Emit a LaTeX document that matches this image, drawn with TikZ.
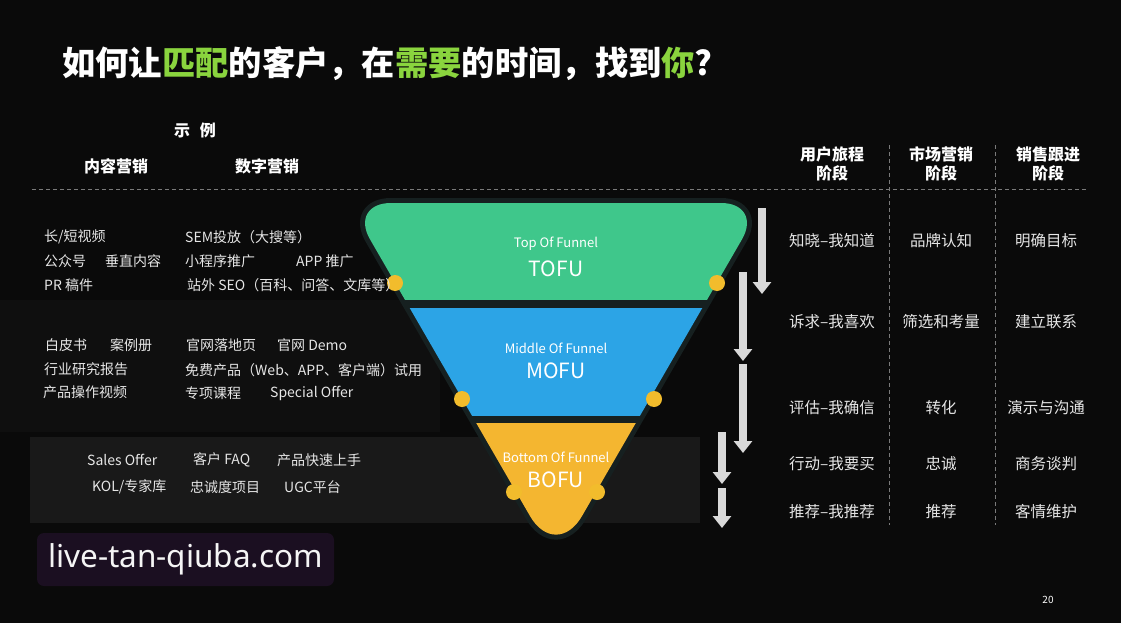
\documentclass[tikz,border=0pt]{standalone}
\usepackage{fontspec}
\setmainfont{Noto Sans CJK SC}
\newfontfamily\urlfont{Noto Sans}
\usetikzlibrary{arrows.meta}
\definecolor{bgdark}{HTML}{0A0A0A}
\definecolor{panelgray}{HTML}{191919}
\definecolor{hazegray}{HTML}{0F0F0F}
\definecolor{titlegreen}{HTML}{8AD43E}
\definecolor{tofugreen}{HTML}{3FC78B}
\definecolor{mofublue}{HTML}{2CA4E6}
\definecolor{bofuyellow}{HTML}{F4B630}
\definecolor{dotyellow}{HTML}{F2BC2C}
\definecolor{rimgray}{HTML}{162020}
\definecolor{arrowgray}{HTML}{D9D9D9}
\definecolor{textgray}{HTML}{E6E6E6}
\definecolor{dashgray}{HTML}{7A7A7A}
\definecolor{markpurple}{HTML}{1B0F21}

\begin{document}
\begin{tikzpicture}[x=1pt, y=-1pt,
  item/.style={text=textgray, font=\fontsize{14}{16}\selectfont, anchor=west, inner sep=0pt},
  head/.style={text=white, font=\bfseries\fontsize{16}{19}\selectfont, align=center, inner sep=0pt},
  cell/.style={text=textgray, font=\fontsize{15.5}{18}\selectfont, inner sep=0pt},
  sepline/.style={draw=dashgray, dash pattern=on 4pt off 3pt, line width=0.8pt},
  bigarrow/.style={draw=arrowgray, line width=7.5pt, -{Triangle[width=18pt, length=12pt]}},
  dot/.style={circle, fill=dotyellow, minimum size=16pt, inner sep=0pt},
  small/.style={text=white, font=\fontsize{13}{15}\selectfont},
  big/.style={text=white, font=\fontsize{21}{24}\selectfont},
]
% background
\fill[bgdark] (0,0) rectangle (1121,623);
\fill[hazegray] (0,300) rectangle (440,432);
\fill[panelgray] (30,437) rectangle (700,523);

% title
\node[anchor=west, text=white, font=\bfseries\fontsize{33.3}{37}\selectfont, inner sep=0pt] (title) at (62,64)
  {如何让\textcolor{titlegreen}{匹配}的客户，在\textcolor{titlegreen}{需要}的时间，找到\textcolor{titlegreen}{你}?};

% left headers
\node[head] (eg) at (195,130) {示\hspace{0.6em}例};
\node[head] (content) at (116,166) {内容营销};
\node[head] (digital) at (267,166) {数字营销};

% right headers
\node[head] (journey) at (832,164) {用户旅程\\阶段};
\node[head] (market) at (941,164) {市场营销\\阶段};
\node[head] (sales) at (1048,164) {销售跟进\\阶段};

% dashed rules
\coordinate (hl) at (32,189);
\coordinate (hr) at (1088,189);
\draw[sepline] (hl) -- (hr);
\coordinate (v1t) at (889,145);
\coordinate (v1b) at (889,525);
\coordinate (v2t) at (995,145);
\coordinate (v2b) at (995,525);
\draw[sepline] (v1t) -- (v1b);
\draw[sepline] (v2t) -- (v2b);

% funnel
\path[save path=\funnelpath] (556,203) [rounded corners=42] -- (349,203) [rounded corners=52] -- (556,561) [rounded corners=42] -- (763,203) -- cycle;
\fill[rimgray, draw=rimgray, line width=10pt, line join=round, use path=\funnelpath];
\begin{scope}
\clip[use path=\funnelpath];
\fill[tofugreen] (340,195) rectangle (770,300);
\fill[mofublue] (340,308) rectangle (770,416);
\fill[bofuyellow] (340,423) rectangle (770,570);
\end{scope}
\node[small] (toptxt) at (556,244) {Top Of Funnel};
\node[big] (tofu) at (556,269) {TOFU};
\node[small] (midtxt) at (556,348) {Middle Of Funnel};
\node[big] (mofu) at (556,371) {MOFU};
\node[small] (bottxt) at (556,457) {Bottom Of Funnel};
\node[big] (bofu) at (556,480) {BOFU};
\node[dot] (d1l) at (395,283) {};
\node[dot] (d1r) at (717,283) {};
\node[dot] (d2l) at (462,399) {};
\node[dot] (d2r) at (654,399) {};
\node[dot] (d3l) at (514,492) {};
\node[dot] (d3r) at (597,492) {};

% stage arrows
\coordinate (a1s) at (762,208);
\coordinate (a1e) at (762,294);
\coordinate (a2s) at (743,272);
\coordinate (a2e) at (743,361);
\coordinate (a3s) at (743,364);
\coordinate (a3e) at (743,453);
\coordinate (a4s) at (722,432);
\coordinate (a4e) at (722,484);
\coordinate (a5s) at (722,488);
\coordinate (a5e) at (722,528);
\draw[bigarrow] (a1s) -- (a1e);
\draw[bigarrow] (a2s) -- (a2e);
\draw[bigarrow] (a3s) -- (a3e);
\draw[bigarrow] (a4s) -- (a4e);
\draw[bigarrow] (a5s) -- (a5e);

% examples, top of funnel
\node[item] (t1) at (44,237) {长/短视频};
\node[item] (t2) at (44,261) {公众号};
\node[item] (t3) at (105,261) {垂直内容};
\node[item] (t4) at (44,285) {PR 稿件};
\node[item] (t5) at (185,237) {SEM投放（大搜等）};
\node[item] (t6) at (185,261) {小程序推广};
\node[item] (t7) at (296,261) {APP 推广};
\node[item] (t8) at (187,285) {站外 SEO（百科、问答、文库等）};
% examples, middle of funnel
\node[item] (m1) at (45,345) {白皮书};
\node[item] (m2) at (110,345) {案例册};
\node[item] (m3) at (44,369) {行业研究报告};
\node[item] (m4) at (43,392) {产品操作视频};
\node[item] (m5) at (186,345) {官网落地页};
\node[item] (m6) at (277,345) {官网 Demo};
\node[item] (m7) at (185,370) {免费产品（Web、APP、客户端）试用};
\node[item] (m8) at (185,393) {专项课程};
\node[item] (m9) at (270,393) {Special Offer};
% examples, bottom of funnel
\node[item] (b1) at (87,460) {Sales Offer};
\node[item] (b2) at (193,460) {客户 FAQ};
\node[item] (b3) at (277,460) {产品快速上手};
\node[item] (b4) at (92,487) {KOL/专家库};
\node[item] (b5) at (190,487) {忠诚度项目};
\node[item] (b6) at (284,487) {UGC平台};

% stage table
\node[cell] (j1) at (832,241) {知晓–我知道};
\node[cell] (j2) at (832,322) {诉求–我喜欢};
\node[cell] (j3) at (832,408) {评估–我确信};
\node[cell] (j4) at (832,464) {行动–我要买};
\node[cell] (j5) at (832,512) {推荐–我推荐};
\node[cell] (k1) at (941,241) {品牌认知};
\node[cell] (k2) at (941,322) {筛选和考量};
\node[cell] (k3) at (941,408) {转化};
\node[cell] (k4) at (941,464) {忠诚};
\node[cell] (k5) at (941,512) {推荐};
\node[cell] (s1) at (1046,241) {明确目标};
\node[cell] (s2) at (1046,322) {建立联系};
\node[cell] (s3) at (1046,408) {演示与沟通};
\node[cell] (s4) at (1046,464) {商务谈判};
\node[cell] (s5) at (1046,512) {客情维护};

% watermark and page number
\node[fill=markpurple, rounded corners=7pt, minimum width=297pt, minimum height=53pt, inner sep=0pt,
  text=white!92!gray, font=\urlfont\fontsize{31.5}{35}\selectfont] (mark) at (185.5,559.5) {live-tan-qiuba.com};
\node[text=white, font=\fontsize{10}{12}\selectfont, inner sep=0pt] (page) at (1048,600) {20};
\end{tikzpicture}
\end{document}
